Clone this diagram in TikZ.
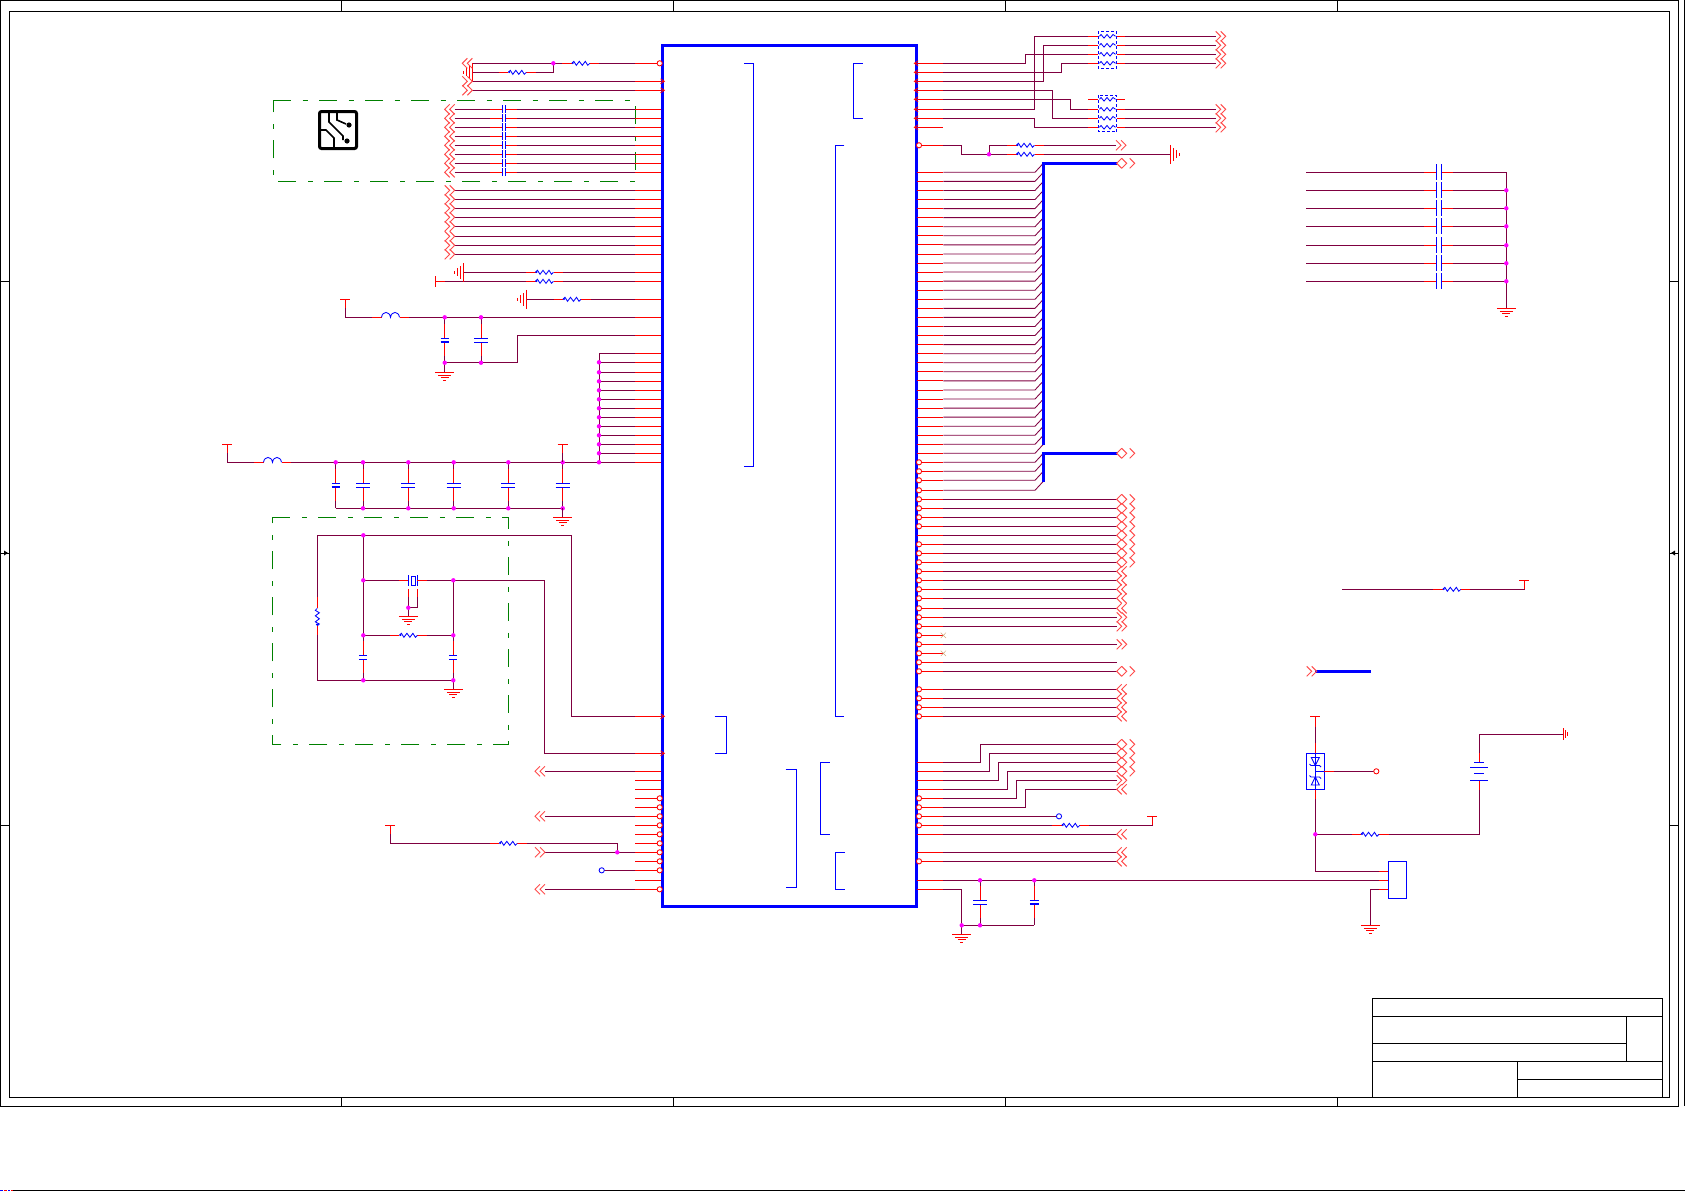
\documentclass[tikz,border=0pt]{standalone}
\definecolor{wirec}{HTML}{7F0040}
\definecolor{junc}{HTML}{FF00FF}
\definecolor{grn}{HTML}{008000}
\tikzset{
 wire/.style={wirec,line width=.85pt,line join=miter},
 pinl/.style={red,line width=.85pt},
 sym/.style={blue,line width=.85pt},
 frame/.style={black,line width=.8pt},
 box/.style={grn,line width=.9pt,dash pattern=on 18pt off 11.5pt on 5pt off 11.5pt},
 chv/.style={red!70,line width=.95pt},
 resh/.pic={\draw[sym] (-9,0)--(-7,-2)--(-4.5,2)--(-1.5,-2)--(1.5,2)--(4.5,-2)--(7,2)--(9,0);\fill[blue] (-8,-.3) circle (1.1);},
 indh/.pic={\draw[sym] (-9,0) .. controls (-8,-6.5) and (-1,-6.5) .. (0,0) .. controls (1,-6.5) and (8,-6.5) .. (9,0);},
 gndd/.pic={\draw[pinl] (-9.5,0)--(9.5,0) (-6.5,3)--(6.5,3) (-4,5.5)--(4,5.5) (-1.5,8)--(1.5,8);},
 gndl/.pic={\draw[pinl] (0,-9.5)--(0,9.5) (-3,-6.5)--(-3,6.5) (-6,-4)--(-6,4) (-9,-1.5)--(-9,1.5);},
 gndr/.pic={\draw[pinl] (0,-9.5)--(0,9.5) (3,-6.5)--(3,6.5) (6,-4)--(6,4) (9,-1.5)--(9,1.5);},
 gnds/.pic={\draw[pinl] (0,-6)--(0,6) (2.5,-4)--(2.5,4) (4.5,-2)--(4.5,2);},
 po/.pic={\draw[chv] (5,-5)--(0,0)--(5,5) (10,-5)--(5,0)--(10,5);},
 pi/.pic={\draw[chv] (0,-5)--(5,0)--(0,5) (5,-5)--(10,0)--(5,5);},
 pb/.pic={\draw[chv] (5,-5)--(0,0)--(5,5) (5,-5)--(10,0)--(5,5) (13,-5)--(18,0)--(13,5);},
 mkl/.pic={\draw[red,line width=.7pt] (-2.5,-2.5)--(1.5,0)--(-2.5,2.5) (-2.5,0)--(1.5,0);},
 mkr/.pic={\draw[red,line width=.7pt] (2.5,-2.5)--(-1.5,0)--(2.5,2.5) (2.5,0)--(-1.5,0);},
}
\newcommand{\Jn}[2]{\fill[junc] (#1,#2) circle (2.2);}
\newcommand{\Cir}[2]{\draw[red,line width=.85pt,fill=white] (#1,#2) circle (2.6);}
\newcommand{\RH}[2]{\draw[pinl] (#1-18.5,#2)--(#1+18.5,#2);\fill[white] (#1-9,#2-1)rectangle(#1+9,#2+1);\pic at (#1,#2) {resh};}
\newcommand{\LH}[2]{\draw[pinl] (#1-18.5,#2)--(#1+18.5,#2);\fill[white] (#1-9,#2-1)rectangle(#1+9,#2+1);\pic at (#1,#2) {indh};}
\newcommand{\CapV}[5]{\draw[wire] (#1,#2)--(#1,#3-2) (#1,#3+2)--(#1,#4);
 \draw[pinl] (#1,#3-16)--(#1,#3-2) (#1,#3+2)--(#1,#3+16);
 \draw[sym] (#1-#5,#3-2)--(#1+#5,#3-2) (#1-#5,#3+2)--(#1+#5,#3+2);}
\newcommand{\PolV}[5]{\draw[wire] (#1,#2)--(#1,#3-2) (#1,#3+2)--(#1,#4);
 \draw[pinl] (#1,#3-16)--(#1,#3-2) (#1,#3+2)--(#1,#3+16);
 \draw[sym] (#1-#5,#3-2)--(#1+#5,#3-2);\draw[blue,line width=1.8pt] (#1-#5,#3+2)--(#1+#5,#3+2);}
\newcommand{\CapH}[4]{\draw[pinl] (#1-12,#3)--(#1,#3) (#2,#3)--(#2+12,#3);\draw[sym] (#1,#3-#4)--(#1,#3+#4) (#2,#3-#4)--(#2,#3+#4);}
\begin{document}
\begin{tikzpicture}[x=1pt,y=-1pt]
\useasboundingbox (0,0) rectangle (1685,1191);
% ---- sheet frame
\draw[frame] (.5,.5) rectangle (1678.7,1106.5);
\draw[frame] (9,11) rectangle (1669.7,1097.3);
\draw[frame] (1684,0)--(1684,1106);
\draw[frame] (13,1190)--(1685,1190);
\draw[blue,line width=.8pt] (0,1190)--(3,1190) (8,1190)--(10,1190);
\draw[red,line width=.8pt] (4,1190)--(7,1190) (11,1190)--(13,1190);
\foreach \x in {341.6,673.7,1005.8,1337.8} {\draw[frame] (\x,.5)--(\x,11) (\x,1097.3)--(\x,1106.5);}
\foreach \y in {281,553,825} {\draw[frame] (.5,\y)--(9,\y) (1669.7,\y)--(1678.7,\y);}
\fill (8,553)--(4,550.5)--(4,555.5)--cycle; \draw[frame] (1,553)--(4,553);
\fill (1671,553)--(1675,550.5)--(1675,555.5)--cycle; \draw[frame] (1675,553)--(1678,553);
% title block
\draw[frame] (1372.3,998.3) rectangle (1662.7,1097.3);
\draw[frame] (1372.3,1016.3)--(1662.7,1016.3) (1372.3,1043.3)--(1626.3,1043.3) (1372.3,1061.3)--(1662.7,1061.3) (1517.3,1079.3)--(1662.7,1079.3) (1626.3,1016.3)--(1626.3,1061.3) (1517.3,1061.3)--(1517.3,1097.3);
% ---- green dash-dot boxes
\draw[box] (273,100.3)--(635,100.3)--(635,181.3)--(273,181.3)--cycle;
\draw[box] (272.3,517.3)--(508.3,517.3)--(508.3,744.3)--(272.3,744.3)--cycle;
% ---- PCB icon
\draw[black,line width=3pt,rounded corners=2pt] (319.5,111.5) rectangle (356.5,148.5);
\draw[black,line width=1.6pt] (329,111)--(329,122)--(343,136)--(343,140);
\draw[black,line width=1.6pt] (319,130)--(326,130)--(334,138)--(334,148);
\draw[black,line width=1.6pt] (337,111)--(337,120)--(346,124);
\fill[black] (349,125) circle (2.6) (347,141) circle (2.6);
% ---- chip internal brackets
\draw[sym] (744,63.3)--(753.3,63.3)--(753.3,466.3)--(744,466.3);
\draw[sym] (862.7,63.3)--(853.3,63.3)--(853.3,118.3)--(862.7,118.3);
\draw[sym] (844.3,145.3)--(835.3,145.3)--(835.3,716.3)--(844.3,716.3);
\draw[sym] (714.6,716.3)--(726.5,716.3)--(726.5,753.3)--(714.6,753.3);
\draw[sym] (785.5,769.5)--(796.3,769.5)--(796.3,887)--(785.5,887);
\draw[sym] (829.6,762.3)--(820,762.3)--(820,834.3)--(829.6,834.3);
\draw[sym] (844.7,852.3)--(835,852.3)--(835,889.3)--(844.7,889.3);
% ---- left pins
\foreach \y in {63.3,81.3,90.3,109.3,118.3,127.3,136.3,145.3,154.3,163.3,172.3,190.3,199.3,208.3,217.3,226.3,236.3,245.3,254.3,272.3,281.3,299.3,317.3,335.3,353.3,362.3,372.3,381.3,390.3,399.3,408.3,417.3,426.3,435.3,444.3,453.3,462.3,716.3,753.3,771.3,780.3,789.3,798.3,807.3,816.3,825.3,834.3,843.3,852.3,861.3,870.3,880.3,889.3}
 {\draw[pinl] (635,\y)--(663,\y);}
% ---- upper-left wires
\draw[wire] (472.3,63.3)--(635,63.3);
\draw[wire] (472.3,72.3)--(553.3,72.3)--(553.3,63.3);
\draw[wire] (472.3,81.3)--(635,81.3) (472.3,90.3)--(635,90.3);
\foreach \y in {109.3,118.3,127.3,136.3,145.3,154.3,163.3,172.3} {\draw[wire] (454.7,\y)--(635,\y);\fill[white] (502.6,\y-1) rectangle (504.7,\y+1);\CapH{502}{505.3}{\y}{4.1}\pic at (444.7,\y) {po};}
\foreach \y in {190.3,199.3,208.3,217.3,226.3,236.3,245.3,254.3} {\draw[wire] (454.7,\y)--(635,\y);\pic at (444.7,\y) {pi};}
\RH{580.8}{63.3}\RH{517.3}{72.3}\Jn{553.3}{63.3}
\pic at (472.3,72.3) {gndl};
\pic at (462.3,63.3) {po};\pic at (462.3,81.3) {pi};\pic at (462.3,90.3) {pi};
\draw[wire] (463.3,272.3)--(635,272.3) (445,281.3)--(635,281.3) (526.7,299.3)--(635,299.3);
\RH{544.5}{272.3}\RH{544.5}{281.3}\RH{572}{299.3}
\pic at (463.3,272.3) {gndl};\pic at (526.7,299.3) {gndl};
\draw[pinl] (435.3,276)--(435.3,286.5) (435.3,281.3)--(445,281.3);
% VCC with ferrite, two caps
\draw[wire] (345.3,299.3)--(345.3,317.3)--(635,317.3);
\draw[pinl] (340.3,299.3)--(350.3,299.3) (345.3,299.3)--(345.3,308);
\LH{390.5}{317.3}
\PolV{444.7}{317.3}{340.3}{362.7}{4}
\CapV{481}{317.3}{340.3}{362.7}{7}
\draw[wire] (444.7,362.7)--(517.3,362.7)--(517.3,335.3)--(635,335.3);
\draw[wire] (444.7,362.7)--(444.7,372.3);
\pic at (444.7,372.3) {gndd};
\Jn{444.7}{317.3}\Jn{481}{317.3}\Jn{444.7}{362.7}\Jn{481}{362.7}
% bus of supply pins
\draw[wire] (635,353.3)--(599,353.3)--(599,462.3);
\foreach \y in {362.3,372.3,381.3,390.3,399.3,408.3,417.3,426.3,435.3,444.3,453.3} {\draw[wire] (599,\y)--(635,\y);\Jn{599}{\y}}
\draw[wire] (227.3,444.3)--(227.3,462.3)--(635,462.3);
\draw[pinl] (222.3,444.3)--(232.3,444.3) (227.3,444.3)--(227.3,453);
\LH{272.5}{462.3}
\Jn{599}{462.3}
\draw[wire] (335.7,508.3)--(562.7,508.3);
\PolV{335.7}{462.3}{485.2}{508.3}{4}
\foreach \x in {363,408.3,453.7,508.3,562.7} {\CapV{\x}{462.3}{485.2}{508.3}{7}\Jn{\x}{462.3}\Jn{\x}{508.3}}
\Jn{335.7}{462.3}
\draw[wire] (562.7,444.3)--(562.7,462.3);
\draw[pinl] (557.7,444.3)--(567.7,444.3) (562.7,444.3)--(562.7,453);
\draw[wire] (562.7,508.3)--(562.7,517.3);
\pic at (562.7,517.3) {gndd};
% ---- crystal network
\draw[wire] (317.3,597.3)--(317.3,535.3)--(571.7,535.3)--(571.7,716.3)--(635,716.3);
\draw[wire] (363.3,535.3)--(363.3,640);
\draw[wire] (317.3,635)--(317.3,680.3)--(453.3,680.3);
\draw[pinl] (317.3,597.3)--(317.3,608.3) (317.3,625.7)--(317.3,635);
\draw[sym] (317.3,608.3)--(315.3,610.3)--(319.3,612.8)--(315.3,615.8)--(319.3,618.8)--(315.3,621.8)--(319.3,624)--(317.3,625.7);
\fill[blue] (317,624.5) circle (1.1);
\draw[wire] (363.3,580.3)--(399,580.3);
\draw[pinl] (399,580.3)--(408.3,580.3);
\draw[sym] (408.3,575)--(408.3,585.6) (417.3,575)--(417.3,585.6);
\draw[sym] (411.7,576) rectangle (415.3,585);
\draw[pinl] (417.3,580.3)--(426.7,580.3);
\draw[wire] (426.7,580.3)--(544.3,580.3)--(544.3,753.3)--(635,753.3);
\draw[wire] (453.3,580.3)--(453.3,640);
\draw[wire] (408.3,597)--(408.3,616.3) (417.3,597)--(417.3,607.7)--(408.3,607.7);
\draw[pinl] (408.3,589.3)--(408.3,597) (417.3,589.3)--(417.3,597);
\pic at (408.3,616.3) {gndd};
\draw[wire] (363.3,635.3)--(390,635.3) (426.7,635.3)--(453.3,635.3);
\RH{408.4}{635.3}
\CapV{363.3}{635.3}{657.3}{680.3}{4}
\CapV{453.3}{635.3}{657.3}{680.3}{4}
\draw[wire] (453.3,680.3)--(453.3,689);
\pic at (453.3,689) {gndd};
\foreach \x/\y in {363.3/535.3,363.3/580.3,453.3/580.3,408.3/607.7,363.3/635.3,453.3/635.3,363.3/680.3,453.3/680.3} {\Jn{\x}{\y}}
% ---- lower-left pins
\draw[wire] (545,771.3)--(635,771.3) (545,816.3)--(635,816.3) (545,852.3)--(635,852.3) (604.4,870.3)--(635,870.3) (545,889.3)--(635,889.3);
\pic at (535,771.3) {po};\pic at (535,816.3) {po};\pic at (535,852.3) {pi};\pic at (535,889.3) {po};
\draw[blue,line width=.85pt,fill=white] (601.7,870.3) circle (2.6);
\draw[wire] (390.3,825.7)--(390.3,843.3)--(617.3,843.3)--(617.3,852.3);
\draw[pinl] (385.3,825.7)--(395.3,825.7) (390.3,825.7)--(390.3,834);
\RH{508.3}{843.3}\Jn{617.3}{852.3}
% ---- chip body
\draw[blue,line width=3pt] (662.5,45.3) rectangle (916.7,906.7);
\foreach \y in {63.3,798.3,807.3,816.3,825.3,834.3,843.3,852.3,861.3,870.3,889.3} {\Cir{659.7}{\y}}
\foreach \y in {81.3,90.3,716.3,753.3} {\pic at (663,\y) {mkl};}
% ---- right pins (red)
\foreach \y in {63.3,72.3,81.3,90.3,99.3,109.3,118.3,127.3,145.3,444.3,453.3,462.3,471.3,480.3,490.3,499.3,508.3,517.3,526.3,535.3,544.3,553.3,562.3,571.3,580.3,589.3,598.3,608.3,617.3,626.3,644.3,662.3,671.3,689.3,698.3,707.3,716.3,762.3,771.3,780.3,789.3,798.3,807.3,816.3,825.3,834.3,852.3,861.3,880.3,889.3}
 {\draw[pinl] (916.7,\y)--(943.3,\y);}
\foreach \k in {0,...,29} {\pgfmathsetmacro\yy{172.3+\k*9.069}
 \draw[pinl] (916.7,\yy)--(943.3,\yy);
 \draw[wire] (943.3,\yy)--(1035,\yy)--(1043.3,\yy-9);}
\foreach \y in {444.3,453.3,462.3,471.3,480.3} {\draw[wire] (943.3,\y)--(1035,\y)--(1043.3,\y-9);}
\draw[wire] (943.3,490.3)--(1035,490.3)--(1043.3,481.3);
\foreach \y in {63.3,72.3,81.3,90.3,99.3,109.3,118.3,127.3} {\pic at (915.7,\y) {mkr};}
\draw[red,line width=.85pt] (916.7,635.3)--(943.3,635.3) (916.7,653.3)--(943.3,653.3);
\foreach \y in {145.3,462.3,471.3,480.3,490.3,499.3,508.3,517.3,526.3,544.3,553.3,562.3,571.3,580.3,589.3,598.3,608.3,617.3,626.3,635.3,644.3,653.3,662.3,671.3,689.3,698.3,707.3,716.3,798.3,807.3,816.3,825.3,861.3} {\Cir{919}{\y}}
% buses
\draw[blue,line width=2.4pt] (1043.3,445)--(1043.3,163.3)--(1116.7,163.3);
\draw[blue,line width=2.4pt] (1043.3,481.6)--(1043.3,453.3)--(1116.7,453.3);
\pic at (1116.7,163.3) {pb};\pic at (1116.7,453.3) {pb};
% ---- top right resistor packs
\draw[wire] (943.3,63.3)--(1025.3,63.3)--(1025.3,54.3)--(1088.3,54.3);
\draw[wire] (943.3,72.3)--(1061.7,72.3)--(1061.7,63.3)--(1088.3,63.3);
\draw[wire] (943.3,81.3)--(1043.3,81.3)--(1043.3,45.3)--(1088.3,45.3);
\draw[wire] (943.3,90.3)--(1052.3,90.3)--(1052.3,118.3)--(1088.3,118.3);
\draw[wire] (943.3,99.3)--(1070.3,99.3)--(1070.3,109.3)--(1088.3,109.3);
\draw[wire] (943.3,109.3)--(1034.3,109.3)--(1034.3,36.3)--(1088.3,36.3);
\draw[wire] (943.3,118.3)--(1034.3,118.3)--(1034.3,127.3)--(1088.3,127.3);
\foreach \y in {36.3,45.3,54.3,63.3,109.3,118.3,127.3} {\draw[wire] (1125,\y)--(1215.7,\y);\pic at (1215.7,\y) {pi};}
\foreach \y in {36.3,45.3,54.3,63.3,99.3,109.3,118.3,127.3} {\draw[pinl] (1088.3,\y)--(1098.3,\y) (1116.7,\y)--(1125,\y);
 \draw[sym] (1099.5,\y)--(1101,\y-1.8)--(1104,\y+1.8)--(1107,\y-1.8)--(1110,\y+1.8)--(1113,\y-1.8)--(1115.5,\y);}
\draw[blue,line width=.85pt,dash pattern=on 3pt off 2pt] (1098.3,31.3) rectangle (1116.7,68.3);
\draw[blue,line width=.85pt,dash pattern=on 3pt off 2pt] (1098.3,95.3) rectangle (1116.7,131.7);
% series resistors with ground
\draw[wire] (943.3,145.3)--(961.7,145.3)--(961.7,154.3)--(1170,154.3);
\draw[wire] (989,154.3)--(989,145.3)--(1116,145.3);
\RH{1025.5}{145.3}\RH{1025.5}{154.3}\Jn{989}{154.3}
\pic at (1116,145.3) {pi};\pic at (1170,154.3) {gndr};
% ---- right rows to connectors
\foreach \y in {499.3,508.3,517.3,526.3,535.3,544.3,553.3,562.3,671.3} {\draw[wire] (943.3,\y)--(1116.7,\y);\pic at (1116.7,\y) {pb};}
\foreach \y in {571.3,580.3,589.3,598.3,608.3,689.3,698.3,707.3,716.3} {\draw[wire] (943.3,\y)--(1116.7,\y);\pic at (1116.7,\y) {po};}
\foreach \y in {617.3,626.3,644.3} {\draw[wire] (943.3,\y)--(1116.7,\y);\pic at (1116.7,\y) {pi};}
\draw[wire] (943.3,662.3)--(1116.7,662.3);
\foreach \y in {635.3,653.3} {\draw[brown!70,line width=.5pt] (940.7,\y-2.7)--(946,\y+2.7) (940.7,\y+2.7)--(946,\y-2.7);}
% jogged rows
\foreach \ya/\xa/\yb in {762.3/980.3/744.3,771.3/989.3/753.3,780.3/998.3/762.3,789.3/1007.3/771.3} {\draw[wire] (943.3,\ya)--(\xa,\ya)--(\xa,\yb)--(1116.7,\yb);\pic at (1116.7,\yb) {pb};}
\draw[wire] (943.3,798.3)--(1016.3,798.3)--(1016.3,780.3)--(1116.7,780.3);\pic at (1116.7,780.3) {pi};
\draw[wire] (943.3,807.3)--(1025.3,807.3)--(1025.3,789.3)--(1116.7,789.3);\pic at (1116.7,789.3) {po};
\draw[wire] (943.3,816.3)--(1056.4,816.3);
\draw[blue,line width=.85pt,fill=white] (1059,816.3) circle (2.6);
\draw[wire] (943.3,825.3)--(1052.3,825.3) (1089,825.3)--(1152.3,825.3)--(1152.3,816.3);
\RH{1070.8}{825.3}
\draw[pinl] (1147.3,816.3)--(1157.3,816.3) (1152.3,816.3)--(1152.3,825.3);
\draw[wire] (943.3,834.3)--(1116.7,834.3);\pic at (1116.7,834.3) {po};
\draw[wire] (943.3,852.3)--(1116.7,852.3);\pic at (1116.7,852.3) {po};
\draw[wire] (943.3,861.3)--(1116.7,861.3);\pic at (1116.7,861.3) {po};
% ---- RTC supply row
\draw[wire] (943.3,880.3)--(1379.3,880.3);
\draw[wire] (943.3,889.3)--(961.7,889.3)--(961.7,934.3);
\draw[wire] (961.7,925.3)--(1034.3,925.3);
\pic at (961.7,934.3) {gndd};
\CapV{980}{880.3}{902.3}{925.3}{7}
\PolV{1034.3}{880.3}{902.3}{925.3}{4.5}
\Jn{980}{880.3}\Jn{1034.3}{880.3}\Jn{961.7}{925.3}\Jn{980}{925.3}
% ---- decoupling block
\foreach \y in {172.3,190.3,208.3,226.3,245.3,263.3,281.3} {\draw[wire] (1306,\y)--(1436,\y) (1441.3,\y)--(1506.3,\y);\CapH{1436.3}{1441.3}{\y}{8}}
\draw[wire] (1506.3,172.3)--(1506.3,308.3);
\foreach \y in {190.3,208.3,226.3,245.3,263.3,281.3} {\Jn{1506.3}{\y}}
\pic at (1506.3,308.3) {gndd};
% ---- pull-up
\draw[wire] (1342.3,589.3)--(1433.3,589.3) (1470,589.3)--(1524.3,589.3)--(1524.3,580.3);
\RH{1451.8}{589.3}
\draw[pinl] (1519.3,580.3)--(1529.3,580.3) (1524.3,580.3)--(1524.3,589.3);
% ---- legend bus
\draw[blue,line width=2.6pt] (1315,671.3)--(1370.7,671.3);
\pic at (1306.7,671.3) {pi};
% ---- diode, battery, connector
\draw[wire] (1315.3,716.3)--(1315.3,753.3);
\draw[pinl] (1310.3,716.3)--(1320.3,716.3) (1315.3,716.3)--(1315.3,727) (1315.3,743)--(1315.3,753.3);
\draw[sym] (1306.3,753.3) rectangle (1324.3,789.7);
\draw[sym] (1315.3,753.3)--(1315.3,789.7);
\draw[sym] (1311.3,757.5)--(1319.3,757.5)--(1315.3,765.5)--cycle (1309.5,764)--(1311,765.5)--(1319.5,765.5)--(1321,767);
\draw[sym] (1311.3,785)--(1319.3,785)--(1315.3,777)--cycle (1309.5,775.5)--(1311,777)--(1319.5,777)--(1321,778.5);
\draw[sym] (1315.3,771.3)--(1324.3,771.3);
\draw[pinl] (1324.3,771.3)--(1334,771.3);
\draw[wire] (1334,771.3)--(1373.7,771.3);
\Cir{1376.3}{771.3}
\draw[wire] (1315.3,789.7)--(1315.3,871.3)--(1388.3,871.3);
\draw[pinl] (1315.3,789.7)--(1315.3,799);
\draw[wire] (1315.3,834.3)--(1351.7,834.3) (1388.3,834.3)--(1479.3,834.3)--(1479.3,780.3);
\RH{1370}{834.3}\Jn{1315.3}{834.3}
\draw[pinl] (1479.3,780.3)--(1479.3,790) (1479.3,752.5)--(1479.3,762.3);
\draw[wire] (1479.3,752.5)--(1479.3,734.3)--(1563.3,734.3);
\pic at (1563.3,734.3) {gnds};
\draw[sym] (1470.3,780.3)--(1488.3,780.3) (1474.3,773.3)--(1484.3,773.3) (1470.3,767.3)--(1488.3,767.3) (1474.3,762.3)--(1484.3,762.3);
\draw[wire] (1370.3,925.3)--(1370.3,889.3)--(1388.3,889.3);
\pic at (1370.3,925.3) {gndd};
\draw[pinl] (1379.3,871.3)--(1388.3,871.3) (1379.3,880.3)--(1388.3,880.3) (1379.3,889.3)--(1388.3,889.3);
\draw[sym] (1388.3,861.3) rectangle (1406.3,898.3);
\end{tikzpicture}
\end{document}
